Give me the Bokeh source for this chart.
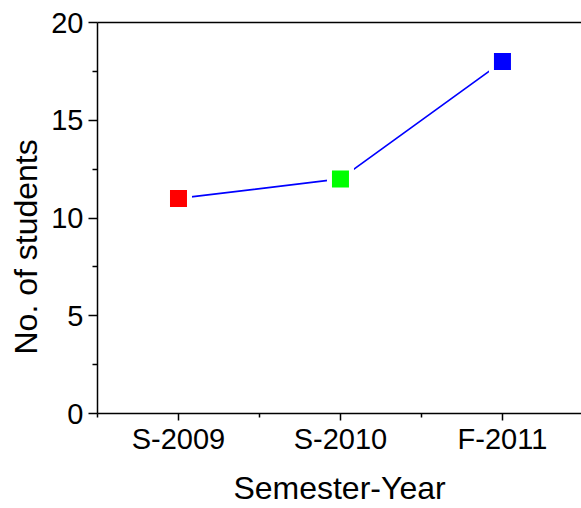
from bokeh.plotting import figure
from bokeh.models import Range1d, FixedTicker, LinearAxis, Title, ColumnDataSource
from bokeh.embed import file_html
from bokeh.resources import INLINE

# ---- data ----
semesters = ["S-2009", "S-2010", "F-2011"]
students = [11, 12, 18]
marker_colors = ["#ff0000", "#00ff00", "#0000ff"]
y_ticks = [0, 5, 10, 15, 20]
y_minor_ticks = [2.5, 7.5, 12.5, 17.5]

xpos = list(range(1, len(semesters) + 1))
src = ColumnDataSource(dict(x=xpos, y=students, color=marker_colors, label=semesters))

FONT = "Liberation Sans"

p = figure(width=581, height=508, output_backend="svg", toolbar_location=None,
           x_range=Range1d(0.5, 3.488), y_range=Range1d(0, 20),
           min_border_left=97, min_border_right=0, min_border_top=22,
           min_border_bottom=92, outline_line_color=None)
p.xgrid.visible = False
p.ygrid.visible = False

# line
p.line("x", "y", source=src, line_color="#0000ff", line_width=1.7)
# white halo to create gap between line and symbols
p.scatter("x", "y", source=src, marker="square", size=27, fill_color="white", line_color=None)
p.scatter("x", "y", source=src, marker="square", size=17, fill_color="color", line_color=None)

# x axis
xa = p.xaxis[0]
xa.ticker = FixedTicker(ticks=xpos, minor_ticks=[v - 0.5 for v in xpos] + [xpos[-1] + 0.5])
xa.major_label_overrides = {v: s for v, s in zip(xpos, semesters)}
xa.major_tick_out = 7
xa.major_tick_in = 0
xa.minor_tick_out = 4
xa.minor_tick_in = 0
xa.axis_line_width = 1.5
xa.major_tick_line_width = 1.5
xa.minor_tick_line_width = 1.5
xa.major_label_text_font = FONT
xa.major_label_text_font_size = "29px"
xa.major_label_text_color = "black"
xa.major_label_standoff = 2
xa.axis_label = "Semester-Year"
xa.axis_label_text_font = FONT
xa.axis_label_text_font_size = "32px"
xa.axis_label_text_font_style = "normal"
xa.axis_label_text_color = "black"
xa.axis_label_standoff = 12

# y axis
ya = p.yaxis[0]
ya.ticker = FixedTicker(ticks=y_ticks, minor_ticks=y_minor_ticks)
ya.major_tick_out = 9
ya.major_tick_in = 0
ya.minor_tick_out = 5
ya.minor_tick_in = 0
ya.axis_line_width = 1.5
ya.major_tick_line_width = 1.5
ya.minor_tick_line_width = 1.5
ya.major_label_text_font = FONT
ya.major_label_text_font_size = "29px"
ya.major_label_text_color = "black"
ya.major_label_standoff = 5

# top border line
top = LinearAxis(ticker=FixedTicker(ticks=[]), axis_line_width=1.5,
                 major_tick_out=0, major_tick_in=0, minor_tick_out=0, minor_tick_in=0,
                 major_label_standoff=0)
p.add_layout(top, "above")

# y axis title (shifted toward the bottom like the original)
p.add_layout(Title(text="No. of students", align="left", offset=59, standoff=10,
                   text_font=FONT, text_font_size="32px", text_font_style="normal",
                   text_color="black"), "left")

open("out.html", "w").write(file_html(p, INLINE))
